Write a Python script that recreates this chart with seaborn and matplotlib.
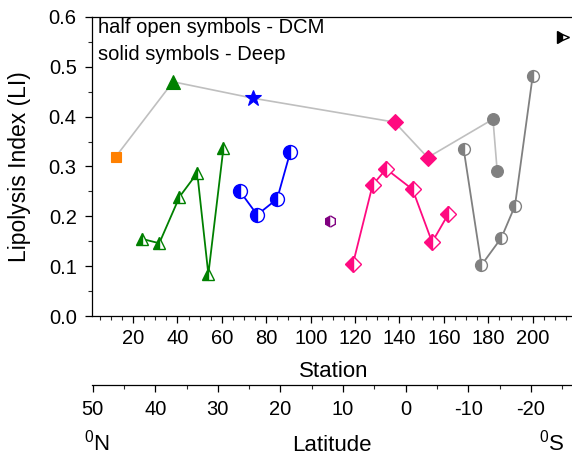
import matplotlib
matplotlib.use("Agg")
import matplotlib.pyplot as plt
import seaborn as sns
from matplotlib.ticker import MultipleLocator, FormatStrFormatter

sns.set_theme(style="ticks")
plt.rcParams["font.family"] = ["Liberation Sans", "DejaVu Sans"]
plt.rcParams["mathtext.fontset"] = "custom"
plt.rcParams["mathtext.rm"] = "Liberation Sans"
plt.rcParams["axes.linewidth"] = 0.9
plt.rcParams["axes.edgecolor"] = "black"
plt.rcParams["axes.labelcolor"] = "black"
plt.rcParams["text.color"] = "black"
plt.rcParams["axes.unicode_minus"] = False

# DCM samples (half open symbols), one transect segment per water mass
green_station = [23.8, 31.8, 40.9, 48.9, 53.9, 60.7]
green_li = [0.155, 0.146, 0.239, 0.287, 0.084, 0.337]

blue_station = [68.0, 75.9, 84.9, 90.8]
blue_li = [0.251, 0.203, 0.235, 0.329]

purple_station = [108.9]
purple_li = [0.191]

pink_station = [119.0, 127.9, 134.0, 145.9, 154.7, 161.9]
pink_li = [0.104, 0.263, 0.295, 0.254, 0.148, 0.204]

gray_station = [168.9, 176.9, 185.9, 192.0, 200.0]
gray_li = [0.335, 0.102, 0.157, 0.221, 0.482]

black_station = [213.8]
black_li = [0.560]

# Deep samples (solid symbols)
deep_station = [12.1, 38.0, 74.1, 137.8, 152.7, 182.1, 184.0]
deep_li = [0.319, 0.470, 0.437, 0.389, 0.318, 0.395, 0.291]
deep_marker = ["s", "^", "*", "D", "D", "o", "o"]
deep_color = ["#ff8000", "#008000", "#0000ff", "#ff0a80", "#ff0a80", "#808080", "#808080"]
deep_size = [7, 9.5, 12, 8, 8, 8.5, 8.5]

station_ticks = list(range(20, 201, 20))
latitude_ticks = [50, 40, 30, 20, 10, 0, -10, -20]

W, H = 572, 455
fig = plt.figure(figsize=(W / 100, H / 100), dpi=100)

ax_left, ax_right = 92, 576
ax_top, ax_bottom = 17, 316
ax = fig.add_axes([ax_left / W, (H - ax_bottom) / H,
                   (ax_right - ax_left) / W, (ax_bottom - ax_top) / H])

dcm_series = [
    (green_station, green_li, "#008000", "^", 9),
    (blue_station, blue_li, "#0000ff", "o", 10),
    (purple_station, purple_li, "#800080", "h", 8),
    (pink_station, pink_li, "#ff0a80", "D", 7.8),
    (gray_station, gray_li, "#808080", "o", 8.5),
    (black_station, black_li, "#000000", ">", 8),
]

# Connecting line for the deep samples
sns.lineplot(x=deep_station, y=deep_li, ax=ax, color="#bfbfbf", linewidth=1.2,
             sort=False, zorder=2)
for st, li, mk, col, sz in zip(deep_station, deep_li, deep_marker, deep_color, deep_size):
    sns.lineplot(x=[st], y=[li], ax=ax, color=col, linestyle="", marker=mk,
                 markersize=sz, markeredgecolor=col, markerfacecolor=col,
                 markeredgewidth=0.8, zorder=4)

for st, li, col, mk, sz in dcm_series:
    sns.lineplot(x=st, y=li, ax=ax, color=col, linewidth=1.3, sort=False,
                 marker=mk, markersize=sz, fillstyle="left",
                 markerfacecolor=col, markerfacecoloralt="white",
                 markeredgecolor=col, markeredgewidth=1.0, zorder=3)

ax.set_xlim(1.5, 219.5)
ax.set_ylim(0.0, 0.6)
ax.set_xticks(station_ticks)
ax.xaxis.set_minor_locator(MultipleLocator(5))
ax.yaxis.set_major_locator(MultipleLocator(0.1))
ax.yaxis.set_minor_locator(MultipleLocator(0.05))
ax.yaxis.set_major_formatter(FormatStrFormatter("%.1f"))
ax.tick_params(axis="both", which="major", direction="out", length=5, width=0.9,
               labelsize=14.5, colors="black", pad=6)
ax.tick_params(axis="both", which="minor", direction="out", length=3, width=0.8)
ax.tick_params(axis="x", which="major", pad=4.5)
ax.set_xlabel("Station", fontsize=16, labelpad=9)
ax.set_ylabel("Lipolysis Index (LI)", fontsize=16.5, labelpad=13)
for side in ["left", "bottom", "top", "right"]:
    ax.spines[side].set_visible(True)
    ax.spines[side].set_color("black")

ax.text(0.012, 0.966, "half open symbols - DCM", transform=ax.transAxes,
        fontsize=14.5, va="center", ha="left")
ax.text(0.012, 0.876, "solid symbols - Deep", transform=ax.transAxes,
        fontsize=14.5, va="center", ha="left")

# Latitude scale below the station axis
lat_y = 385
ax2 = fig.add_axes([ax_left / W, (H - lat_y) / H, (ax_right - ax_left) / W, 0.0001])
ax2.set_facecolor("none")
lat_at_left = 50.1
lat_per_px = 10 / 62.6
ax2.set_xlim(lat_at_left, lat_at_left - (ax_right - ax_left) * lat_per_px)
ax2.set_ylim(0, 1)
ax2.set_yticks([])
ax2.set_xticks(latitude_ticks)
ax2.xaxis.set_minor_locator(MultipleLocator(5))
for side in ["left", "right", "top"]:
    ax2.spines[side].set_visible(False)
ax2.spines["bottom"].set_color("black")
ax2.tick_params(axis="x", which="major", direction="out", length=5, width=0.9,
                labelsize=14.5, colors="black", pad=6)
ax2.tick_params(axis="x", which="minor", direction="out", length=3, width=0.8)

fig.text(332 / W, (H - 451) / H, "Latitude", fontsize=16, ha="center", va="baseline")
fig.text(97 / W, (H - 451) / H, r"$^{0}$N", fontsize=16, ha="center", va="baseline")
fig.text(552 / W, (H - 451) / H, r"$^{0}$S", fontsize=16, ha="center", va="baseline")

fig.savefig("out.png", dpi=100)
